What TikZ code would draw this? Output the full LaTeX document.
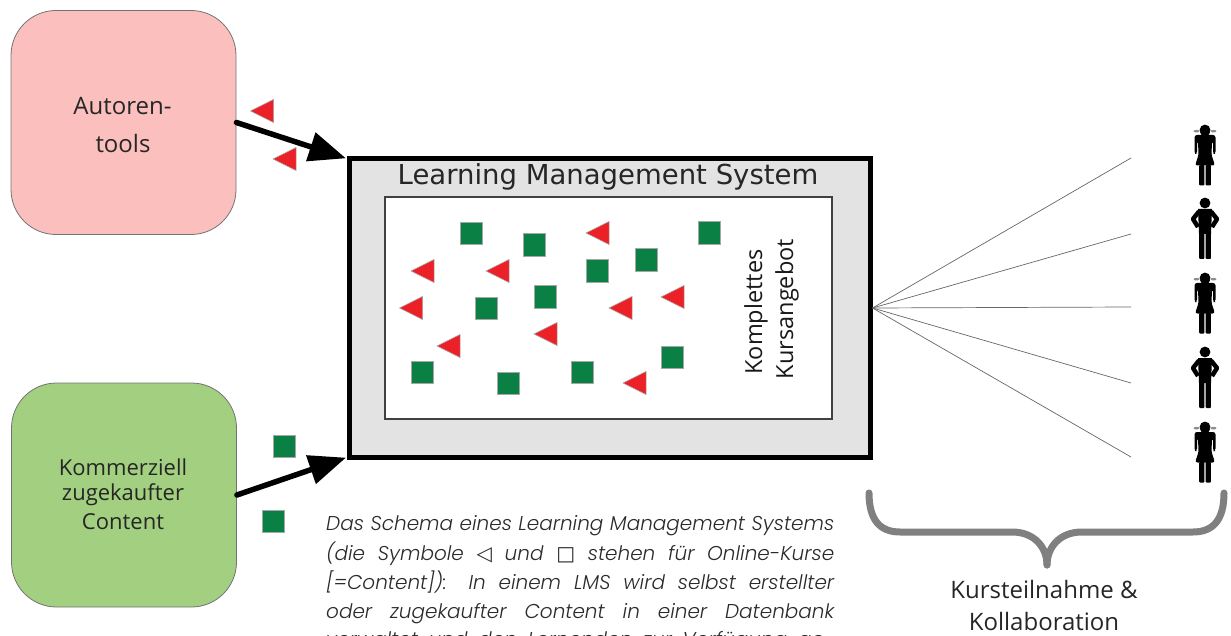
\documentclass[tikz,border=0pt]{standalone}
\usepackage{fontspec}
\setmainfont{Open Sans}
\newfontfamily\lmsfont{DejaVu Sans}
\newfontfamily\symfont{DejaVu Sans}
\newfontfamily\capfont{Poppins Light Italic}
\usetikzlibrary{arrows.meta}
\definecolor{tred}{HTML}{EC2027}
\definecolor{tgreen}{HTML}{0B8044}
\definecolor{pinkbox}{HTML}{FBC0BE}
\definecolor{greenbox}{HTML}{A3D080}
\definecolor{lmsgray}{HTML}{E3E3E3}
\definecolor{captxt}{HTML}{2A2A2A}
\tikzset{
  x=1pt,y=-1pt,
  srcbox/.style={draw=black!55,line width=.8pt,rounded corners=45pt,minimum width=225pt,minimum height=224pt,inner sep=0pt,align=center,text=black!85},
  gsq/.style={draw=black!35,line width=.5pt,fill=tgreen,minimum size=22.5pt,inner sep=0pt},
  bigarrow/.style={line width=5.5pt,line cap=round,-{Triangle[length=37pt,width=29pt]},shorten >=-1pt},
  fanline/.style={draw=black!60,line width=.7pt},
  capline/.style={anchor=base west,inner sep=0pt,text=captxt,font=\capfont\fontsize{20}{24}\selectfont},
  rtri/.pic={\draw[draw=black!35,line width=.5pt,fill=tred] (-11.5,0)--(11.5,-11.5)--(11.5,11.5)--cycle;},
  femalefig/.pic={
    \fill (0,0) circle (5.4);
    \fill[black!45] (-8.5,1.2) ellipse (3 and 1.3) (8.5,1.2) ellipse (3 and 1.3);
    \fill (-5,2) -- (5,2) -- (3,6) -- (-3,6) -- cycle;
    \fill[rounded corners=2.5pt] (-10.5,5) -- (10.5,5) -- (10.5,24) -- (8,24) -- (8,11) -- (7,11) -- (6.5,25) -- (10,35.5) -- (-10,35.5) -- (-6.5,25) -- (-7,11) -- (-8,11) -- (-8,24) -- (-10.5,24) -- cycle;
    \fill[rounded corners=.8pt] (-5.8,35) rectangle (-.7,55.5);
    \fill[rounded corners=.8pt] (.7,35) rectangle (5.8,55.5);
  },
  malefig/.pic={
    \fill (0,0) circle (5.4);
    \fill (-7,6) -- (7,6) -- (6,31) -- (-6,31) -- cycle;
    \draw[line width=4.5pt,line join=round] (-6,8.5) -- (-12,16) -- (-7,24);
    \draw[line width=4.5pt,line join=round] (6,8.5) -- (12,16) -- (7,24);
    \fill[rounded corners=.8pt] (-5.8,28) rectangle (-.7,56);
    \fill[rounded corners=.8pt] (.7,28) rectangle (5.8,56);
  },
}
\begin{document}
\begin{tikzpicture}
\useasboundingbox (0,0) rectangle (1231,636);
\clip (0,0) rectangle (1231,636);
% source boxes
\node[srcbox,fill=pinkbox] (autor) at (123.5,122.5) {};
\node[srcbox,fill=greenbox] (komm) at (124,495) {};
\node[font=\fontsize{24}{26}\selectfont,text=black!85] (autorA) at (122.5,106) {Autoren-};
\node[font=\fontsize{24}{26}\selectfont,text=black!85] (autorB) at (123,144) {tools};
\node[font=\fontsize{22}{26}\selectfont,text=black!85] (kommA) at (123,467) {Kommerziell};
\node[font=\fontsize{22}{26}\selectfont,text=black!85] (kommB) at (123,495) {zugekaufter};
\node[font=\fontsize{22}{26}\selectfont,text=black!85] (kommC) at (123,522) {Content};
% LMS
\node[draw=black,line width=5pt,fill=lmsgray,minimum width=521pt,minimum height=298pt,inner sep=0pt] (lms) at (609.5,308) {};
\node[draw=black!75,line width=1.5pt,fill=white,minimum width=447pt,minimum height=222pt,inner sep=0pt] (inner) at (608.5,308) {};
\node[font=\lmsfont\fontsize{27.5}{30}\selectfont,anchor=base,text=black!85] (lmstitle) at (608,185) {Learning Management System};
\node[rotate=90,font=\fontsize{23.5}{26}\selectfont,text=black!90] (kA) at (756,312) {Komplettes};
\node[rotate=90,font=\fontsize{23.5}{26}\selectfont,text=black!90] (kB) at (787,309) {Kursangebot};
% arrows
\draw[bigarrow] (autor.east) -- ([shift={(-1.5,1.5)}]lms.north west);
\draw[bigarrow] (komm.east) -- ([shift={(-1.5,-1.5)}]lms.south west);
% fan
\coordinate (f1) at (1131,158);
\coordinate (f2) at (1131,234);
\coordinate (f3) at (1131,307);
\coordinate (f4) at (1131,383);
\coordinate (f5) at (1131,457);
\foreach \k in {1,...,5} \draw[fanline] (lms.east) -- (f\k);
% green squares
\foreach \n/\px/\py in {a/471/233.5,b/534/245,c/597/271,d/545/297,e/486/308,f/709/233,g/646/260,h/422/372,i/508/383,j/582/372,k/672/357,l/284/446,m/273/521}
  \node[gsq] (sq\n) at (\px,\py) {};
% red triangles
\foreach \px/\py in {262/111,284.5/159,597.5/233,422.5/271,497.5/271,411/308,620.5/308,672.5/297,545.5/334,448.5/346,634.5/383}
  \pic at (\px,\py) {rtri};
% people
\pic at (1205,130) {femalefig};
\pic at (1205,203) {malefig};
\pic at (1205,278) {femalefig};
\pic at (1205,352) {malefig};
\pic at (1205,427) {femalefig};
% brace
\draw[draw=black!50,line width=7pt,line cap=round] (869,493) .. controls (869,520) and (880,532) .. (900,532) -- (1012,532) .. controls (1035,532) and (1047,548) .. (1047,565);
\draw[draw=black!50,line width=7pt,line cap=round] (1224,493) .. controls (1224,520) and (1213,532) .. (1193,532) -- (1082,532) .. controls (1059,532) and (1047,548) .. (1047,565);
\node[font=\fontsize{24}{30}\selectfont,text=black!85] (tA) at (1044,589) {Kursteilnahme \&};
\node[font=\fontsize{24}{30}\selectfont,text=black!85] (tB) at (1044,621) {Kollaboration};
% caption
\node[capline] (c1) at (326,530) {\makebox[508pt][s]{Das Schema eines Learning Management Systems}};
\node[capline] (c2) at (326,560) {\makebox[508pt][s]{(die Symbole {\symfont\upshape ◁} und {\symfont\upshape\bfseries □} stehen für Online-Kurse}};
\node[capline] (c3) at (326,589) {\makebox[508pt][s]{[=Content]): In einem LMS wird selbst erstellter}};
\node[capline] (c4) at (326,618) {\makebox[508pt][s]{oder zugekaufter Content in einer Datenbank}};
\node[capline] (c5) at (326,646) {\makebox[508pt][s]{verwaltet und den Lernenden zur Verfügung ge-}};
\end{tikzpicture}
\end{document}
